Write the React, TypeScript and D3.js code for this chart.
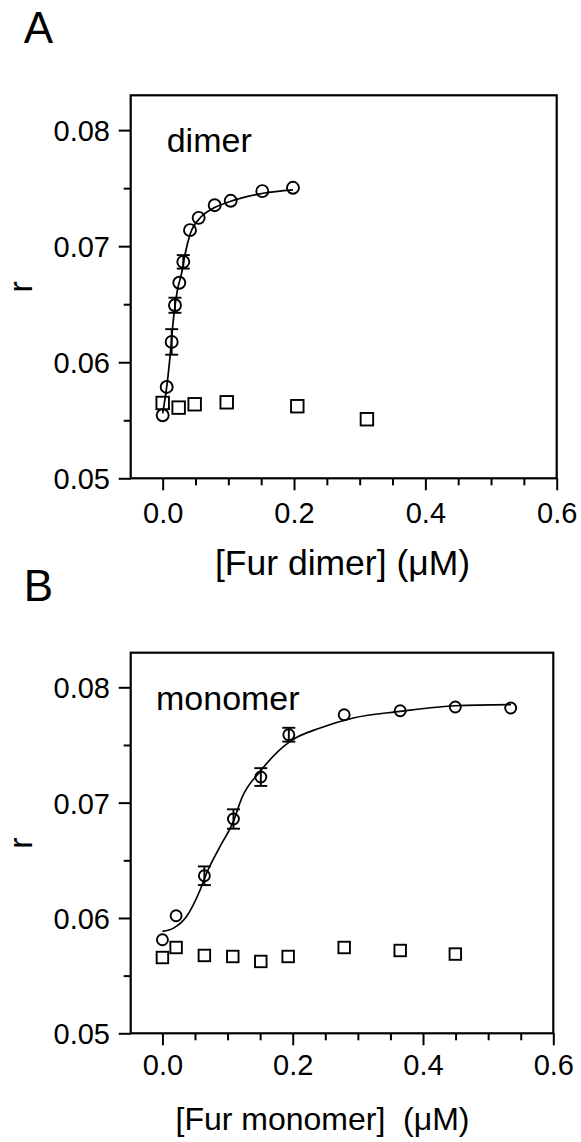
import React, { useEffect, useRef } from 'react';
import { axisBottom, axisLeft, curveMonotoneX, line, scaleLinear, select } from 'd3';

// panel A - Fur dimer
const dimerConc = [0, 0.0061, 0.0137, 0.0187, 0.0253, 0.0314, 0.0416, 0.0548, 0.0792, 0.1036, 0.1517, 0.1984];
const dimerR = [0.05543, 0.05787, 0.06175, 0.06491, 0.06685, 0.06865, 0.07138, 0.07244, 0.07353, 0.07391, 0.07474, 0.07503];
const dimerErr = [0, 0, 0.0011, 0.00065, 0, 0.00058, 0, 0, 0, 0, 0, 0];
const dimerCtrlConc = [0, 0.0243, 0.0487, 0.0975, 0.205, 0.311];
const dimerCtrlR = [0.05649, 0.05609, 0.05638, 0.05655, 0.05621, 0.05509];
const dimerFitConc = [0, 0.0061, 0.0111, 0.0161, 0.0222, 0.0289, 0.034, 0.0416, 0.0568, 0.077, 0.1025, 0.1532, 0.1984];
const dimerFitR = [0.0556, 0.05785, 0.06042, 0.06356, 0.06614, 0.0677, 0.06928, 0.071, 0.07242, 0.07327, 0.07385, 0.07456, 0.07485];

// panel B - Fur monomer
const monoConc = [0, 0.021, 0.0644, 0.109, 0.151, 0.194, 0.279, 0.365, 0.4496, 0.5346];
const monoR = [0.05811, 0.06019, 0.06366, 0.06858, 0.07222, 0.07589, 0.07762, 0.07797, 0.07829, 0.0782];
const monoErr = [0, 0, 0.00081, 0.00084, 0.00077, 0.0006, 0, 0, 0, 0];
const monoCtrlConc = [0, 0.021, 0.0644, 0.108, 0.151, 0.193, 0.279, 0.365, 0.4496];
const monoCtrlR = [0.05657, 0.05744, 0.05675, 0.05666, 0.05623, 0.05666, 0.05744, 0.05718, 0.05687];
const monoFitConc = [0, 0.017, 0.037, 0.058, 0.068, 0.0885, 0.109, 0.1218, 0.15, 0.196, 0.242, 0.293, 0.365, 0.45, 0.535];
const monoFitR = [0.05883, 0.05912, 0.06013, 0.06245, 0.0639, 0.0662, 0.06837, 0.0704, 0.07271, 0.07531, 0.07647, 0.07734, 0.07791, 0.0784, 0.07849];

const xMajor = [0, 0.2, 0.4, 0.6];
const xMinor = [0.05, 0.1, 0.15, 0.25, 0.3, 0.35, 0.45, 0.5, 0.55];
const yMajor = [0.05, 0.06, 0.07, 0.08];
const yMinor = [0.055, 0.065, 0.075];

const FONT = '"Liberation Sans", Arial, sans-serif';

interface PanelProps {
  letter: string;
  name: string;
  title: string;
  titleSize: number;
  top: number;
  bottom: number;
  left: number;
  right: number;
  markR: number;
  sq: number;
  nameX: number;
  titleX: number;
  tickLabelY: number;
  conc: number[];
  r: number[];
  err: number[];
  ctrlConc: number[];
  ctrlR: number[];
  fitConc: number[];
  fitR: number[];
}

const Panel = (p: PanelProps) => {
  const gRef = useRef(null);

  useEffect(() => {
    const g: any = select(gRef.current);
    g.selectAll('*').remove();

    const x = scaleLinear().domain([-0.0487, 0.6]).range([p.left, p.right]);
    const y = scaleLinear().domain([0.05, 0.083]).range([p.bottom, p.top]);

    // axes: minor ticks short, major ticks long with labels
    const xMin = g.append('g').attr('transform', `translate(0,${p.bottom})`)
      .call(axisBottom(x).tickValues(xMinor).tickSize(7).tickFormat(() => ''));
    const xMaj = g.append('g').attr('transform', `translate(0,${p.bottom})`)
      .call(axisBottom(x).tickValues(xMajor).tickSize(12).tickFormat((d: any) => d.toFixed(1)));
    xMaj.selectAll('text').attr('y', p.tickLabelY).attr('dy', 0);

    const yMin = g.append('g').attr('transform', `translate(${p.left},0)`)
      .call(axisLeft(y).tickValues(yMinor).tickSize(7).tickFormat(() => ''));
    const yMaj = g.append('g').attr('transform', `translate(${p.left},0)`)
      .call(axisLeft(y).tickValues(yMajor).tickSize(12).tickFormat((d: any) => d.toFixed(2)));
    yMaj.selectAll('text').attr('x', -20.7).attr('dy', '0.36em');

    [xMin, xMaj, yMin, yMaj].forEach((a) => {
      a.select('.domain').remove();
      a.selectAll('line').attr('stroke', '#000').attr('stroke-width', 2);
      a.selectAll('text').attr('font-family', FONT).attr('font-size', 29).attr('fill', '#000');
    });

    // frame
    g.append('rect')
      .attr('x', p.left).attr('y', p.top)
      .attr('width', p.right - p.left).attr('height', p.bottom - p.top)
      .attr('fill', 'none').attr('stroke', '#000').attr('stroke-width', 2.2);

    // fitted curve
    const pts = p.fitConc.map((c, i) => [c, p.fitR[i]]);
    const path = line<number[]>().x((d) => x(d[0])).y((d) => y(d[1])).curve(curveMonotoneX);
    g.append('path').attr('d', path(pts)).attr('fill', 'none').attr('stroke', '#000').attr('stroke-width', 1.7);

    // error bars
    const eb = p.conc.map((c, i) => ({ c, v: p.r[i], e: p.err[i] })).filter((d) => d.e > 0);
    const ebg = g.append('g').attr('stroke', '#000').attr('stroke-width', 1.9);
    eb.forEach((d) => {
      ebg.append('line').attr('x1', x(d.c)).attr('x2', x(d.c)).attr('y1', y(d.v - d.e)).attr('y2', y(d.v + d.e));
      [d.v - d.e, d.v + d.e].forEach((v) => {
        ebg.append('line').attr('x1', x(d.c) - 6.5).attr('x2', x(d.c) + 6.5).attr('y1', y(v)).attr('y2', y(v));
      });
    });

    // control squares
    g.selectAll('.sq')
      .data(p.ctrlConc)
      .join('rect')
      .attr('class', 'sq')
      .attr('x', (c: number) => x(c) - p.sq / 2)
      .attr('y', (_: number, i: number) => y(p.ctrlR[i]) - p.sq / 2)
      .attr('width', p.sq)
      .attr('height', p.sq)
      .attr('fill', 'none')
      .attr('stroke', '#000')
      .attr('stroke-width', 1.9);

    // circles
    g.selectAll('.pt')
      .data(p.conc)
      .join('circle')
      .attr('class', 'pt')
      .attr('cx', (c: number) => x(c))
      .attr('cy', (_: number, i: number) => y(p.r[i]))
      .attr('r', p.markR)
      .attr('fill', 'none')
      .attr('stroke', '#000')
      .attr('stroke-width', 1.9);
  }, [p]);

  const midY = (p.top + p.bottom) / 2;
  return (
    <g fontFamily={FONT} fill="#000">
      <g ref={gRef} />
      <text x={p.left - 107} y={p.top - 52} fontSize={44}>{p.letter}</text>
      <text x={p.nameX} y={p.top + 57} fontSize={34}>{p.name}</text>
      <text x={p.titleX} y={p.bottom + 97} fontSize={p.titleSize} textAnchor="middle" style={{ whiteSpace: 'pre' }}>{p.title}</text>
      <text transform={`translate(32,${midY}) rotate(-90)`} fontSize={34} textAnchor="middle">r</text>
    </g>
  );
};

const App = () => {
  return (
    <svg width={581} height={1142} style={{ position: 'absolute', left: 0, top: 0, background: '#fff' }}>
      <Panel letter="A" name="dimer" title="[Fur dimer] (μM)" titleSize={35.5}
        top={95.3} bottom={478.3} left={130.7} right={556.7} markR={6} sq={12.5}
        nameX={166.7} titleX={342.5} tickLabelY={45}
        conc={dimerConc} r={dimerR} err={dimerErr} ctrlConc={dimerCtrlConc} ctrlR={dimerCtrlR}
        fitConc={dimerFitConc} fitR={dimerFitR} />
      <Panel letter="B" name="monomer" title="[Fur monomer]  (μM)" titleSize={32}
        top={652.7} bottom={1033.3} left={130.7} right={553.3} markR={5.5} sq={11.5}
        nameX={156} titleX={322.5} tickLabelY={42}
        conc={monoConc} r={monoR} err={monoErr} ctrlConc={monoCtrlConc} ctrlR={monoCtrlR}
        fitConc={monoFitConc} fitR={monoFitR} />
    </svg>
  );
};

export default App;
